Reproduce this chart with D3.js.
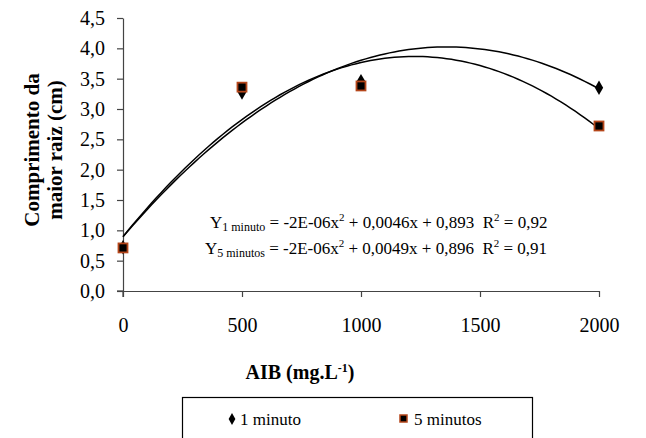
<!DOCTYPE html>
<html>
<head>
<meta charset="utf-8">
<script src="https://cdn.jsdelivr.net/npm/d3@7"></script>
<style>
  body { margin: 0; background: #fff; }
</style>
</head>
<body>
<svg id="chart" width="646" height="438"></svg>
<script>
// data
const doses = [0, 500, 1000, 2000];
const umMinuto = [0.72, 3.27, 3.46, 3.35];
const cincoMinutos = [0.71, 3.36, 3.38, 2.72];
// quadratic trendline coefficients [a, b, c]
const fitUm = [-1.69e-6, 0.0046, 0.893];
const fitCinco = [-1.98e-6, 0.00485, 0.896];
const xTicks = [0, 500, 1000, 1500, 2000];
const yTicks = [0, 0.5, 1, 1.5, 2, 2.5, 3, 3.5, 4, 4.5];

const serif = '"Liberation Serif", "Times New Roman", Times, serif';
const svg = d3.select("#chart");
const margin = { left: 123, right: 47, top: 18, bottom: 147 };
const width = 646 - margin.left - margin.right;
const height = 438 - margin.top - margin.bottom;

const x = d3.scaleLinear().domain([0, 2000]).range([0, width]);
const y = d3.scaleLinear().domain([0, 4.5]).range([height, 0]);

const g = svg.append("g").attr("transform", `translate(${margin.left},${margin.top})`);

// axes
const fmt = d => d.toFixed(1).replace(".", ",");
const yAxis = g.append("g")
  .call(d3.axisLeft(y).tickValues(yTicks).tickFormat(fmt).tickSize(6).tickSizeOuter(0).tickPadding(12));
const xAxis = g.append("g")
  .attr("transform", `translate(0,${height})`)
  .call(d3.axisBottom(x).tickValues(xTicks).tickFormat(d3.format("d")).tickSize(6).tickSizeOuter(0).tickPadding(21));

[xAxis, yAxis].forEach(a => {
  a.attr("font-family", null).attr("font-size", null);
  a.selectAll("path, line").attr("stroke", "#444").attr("stroke-width", 1.2);
  a.selectAll("text").style("font-family", serif).style("font-size", "20px").attr("fill", "#000");
});
// y axis line continues a little below zero
g.append("line").attr("x1", 0).attr("x2", 0).attr("y1", height).attr("y2", height + 6)
  .attr("stroke", "#444").attr("stroke-width", 1.2);
g.append("line").attr("x1", -6).attr("x2", 0).attr("y1", height).attr("y2", height)
  .attr("stroke", "#444").attr("stroke-width", 1.2);

// trendlines
function quad(c) {
  return d => c[0] * d * d + c[1] * d + c[2];
}
const xs = d3.range(0, 2001, 20);
const line = d3.line().x(d => x(d[0])).y(d => y(d[1]));
[fitUm, fitCinco].forEach(c => {
  const f = quad(c);
  g.append("path")
    .datum(xs.map(v => [v, f(v)]))
    .attr("d", line)
    .attr("fill", "none")
    .attr("stroke", "#000")
    .attr("stroke-width", 1.5);
});

// markers
const diamond = d3.symbol().type(d3.symbolDiamond).size(60);
g.selectAll(".um").data(doses).enter().append("path")
  .attr("class", "um")
  .attr("d", diamond)
  .attr("transform", (d, i) => `translate(${x(d)},${y(umMinuto[i])})`)
  .attr("fill", "#000");

g.selectAll(".cinco").data(doses).enter().append("rect")
  .attr("class", "cinco")
  .attr("x", d => x(d) - 4.5)
  .attr("y", (d, i) => y(cincoMinutos[i]) - 4.5)
  .attr("width", 9).attr("height", 9)
  .attr("fill", "#000")
  .attr("stroke", "#b5461a")
  .attr("stroke-width", 1.8);

// equations
function addEquation(tx, ty, sub, b, c, r2) {
  const t = svg.append("text").attr("x", tx).attr("y", ty)
    .style("font-family", serif).style("font-size", "17px");
  t.append("tspan").text("Y");
  t.append("tspan").attr("dy", 3).style("font-size", "12px").text(sub);
  t.append("tspan").attr("dy", -3).text(" = -2E-06x");
  t.append("tspan").attr("dy", -7).style("font-size", "11px").text("2");
  t.append("tspan").attr("dy", 7).text(" + " + b + "x + " + c + "\u00a0 R");
  t.append("tspan").attr("dy", -7).style("font-size", "11px").text("2");
  t.append("tspan").attr("dy", 7).text(" = " + r2);
}
addEquation(210, 228, "1 minuto", "0,0046", "0,893", "0,92");
addEquation(205, 254, "5 minutos", "0,0049", "0,896", "0,91");

// axis titles
const xt = svg.append("text")
  .attr("x", 300).attr("y", 379)
  .attr("text-anchor", "middle")
  .style("font-family", serif)
  .style("font-size", "20px").style("font-weight", "bold");
xt.append("tspan").text("AIB (mg.L");
xt.append("tspan").attr("dy", -7).style("font-size", "12px").text("-1");
xt.append("tspan").attr("dy", 7).text(")");

const yt = svg.append("text")
  .attr("transform", "translate(39,150) rotate(-90)")
  .attr("text-anchor", "middle")
  .style("font-family", serif)
  .style("font-size", "21px").style("font-weight", "bold");
yt.append("tspan").attr("x", 0).attr("y", 0).text("Comprimento da");
yt.append("tspan").attr("x", 0).attr("y", 23).text("maior raiz (cm)");

// legend
svg.append("rect")
  .attr("x", 182.5).attr("y", 397.5).attr("width", 350).attr("height", 60)
  .attr("fill", "#fff").attr("stroke", "#000").attr("stroke-width", 1.2);
svg.append("path")
  .attr("d", d3.symbol().type(d3.symbolDiamond).size(40))
  .attr("transform", "translate(232,419)")
  .attr("fill", "#000");
svg.append("text").attr("x", 240).attr("y", 425)
  .style("font-family", serif).style("font-size", "17px").text("1 minuto");
svg.append("rect")
  .attr("x", 400).attr("y", 415).attr("width", 7).attr("height", 7)
  .attr("fill", "#000").attr("stroke", "#b5461a").attr("stroke-width", 1.5);
svg.append("text").attr("x", 414).attr("y", 425)
  .style("font-family", serif).style("font-size", "17px").text("5 minutos");
</script>
</body>
</html>
